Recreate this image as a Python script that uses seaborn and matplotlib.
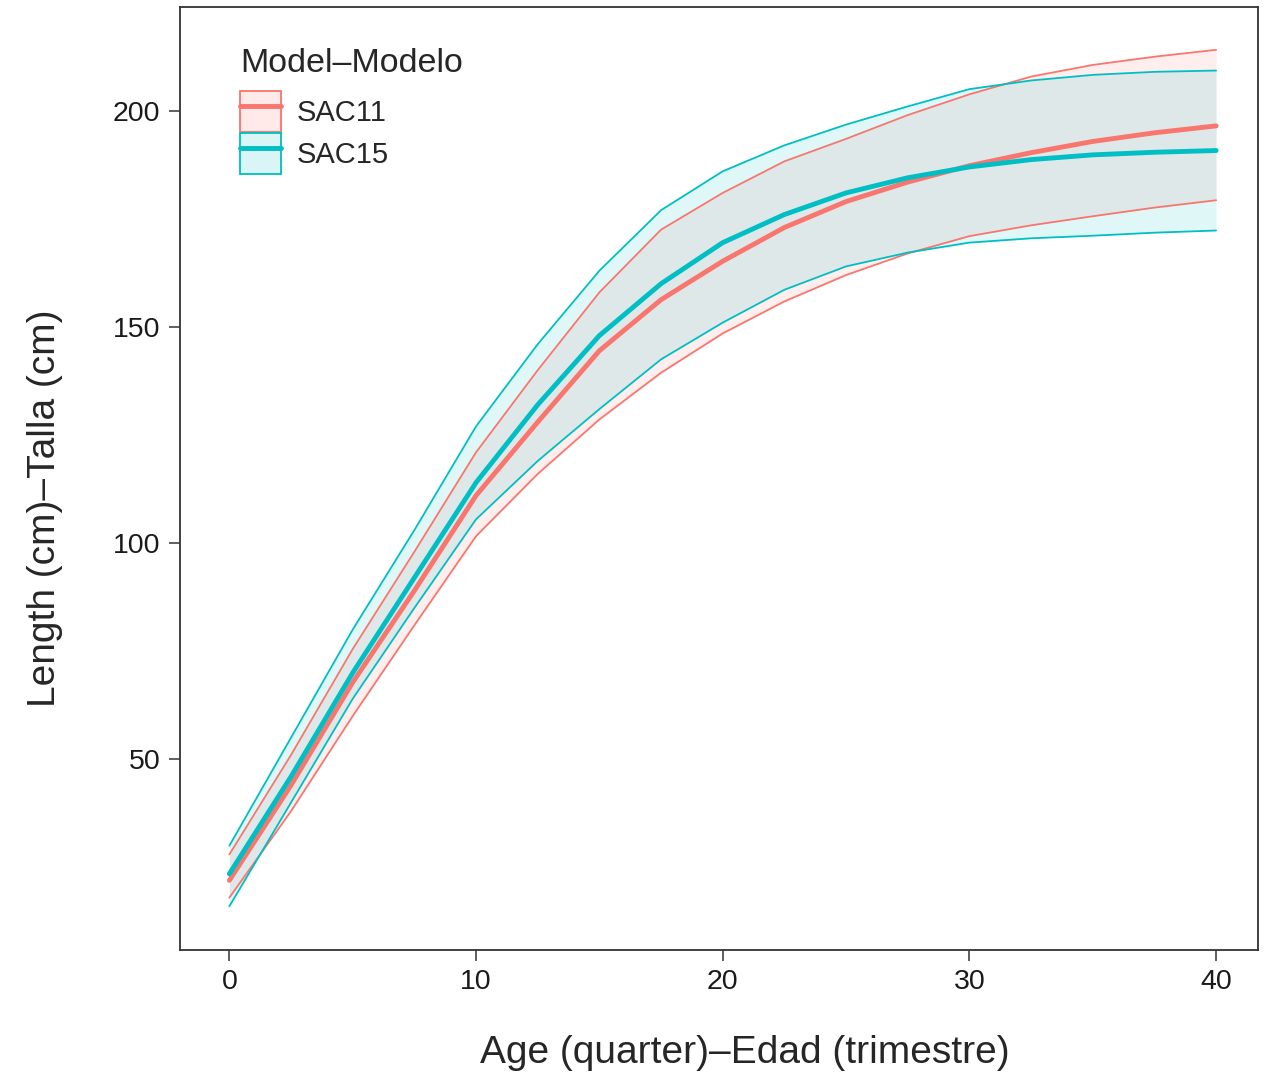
"""
Growth curves SAC11 vs SAC15 with confidence bands
"""

import pandas as pd
import matplotlib
matplotlib.use("Agg")
import matplotlib.pyplot as plt
from matplotlib.patches import Patch
from matplotlib.lines import Line2D
import seaborn as sns

# values
age = [0, 2.5, 5, 7.5, 10, 12.5, 15, 17.5, 20, 22.5, 25, 27.5, 30, 32.5, 35, 37.5, 40]

sac11_mean = [22, 44, 67.8, 89, 111, 128, 144.5, 156.3, 165.2, 173, 179, 183.5, 187.3, 190.3, 192.9, 194.9, 196.5]
sac11_lo = [18, 38, 60, 81, 101.6, 116, 128.6, 139.4, 148.5, 155.9, 162, 167, 171, 173.5, 175.6, 177.6, 179.3]
sac11_hi = [28, 51, 75.5, 98, 121, 140, 158, 172.5, 181, 188.3, 193.5, 199, 203.8, 207.9, 210.6, 212.5, 214.1]

sac15_mean = [23.5, 46, 70, 92, 114, 132, 148, 160, 169.5, 176, 181, 184.5, 187, 188.7, 189.8, 190.4, 190.8]
sac15_lo = [16, 40, 64, 85, 105.5, 119, 131, 142.5, 151, 158.6, 164, 167.2, 169.5, 170.5, 171.1, 171.8, 172.3]
sac15_hi = [30, 55, 80, 103, 127, 146, 163, 177, 186, 192, 196.8, 201, 205, 207, 208.3, 209, 209.3]

models = ["SAC11", "SAC15"]
palette = {"SAC11": "#F8766D", "SAC15": "#00BFC4"}

frames = []
for name, m, lo, hi in [("SAC11", sac11_mean, sac11_lo, sac11_hi),
                        ("SAC15", sac15_mean, sac15_lo, sac15_hi)]:
    frames.append(pd.DataFrame({"age": age, "mean": m, "lo": lo, "hi": hi, "model": name}))
df = pd.concat(frames, ignore_index=True)

sns.set_theme(style="white")
plt.rcParams["font.family"] = ["Liberation Sans", "DejaVu Sans"]

fig = plt.figure(figsize=(12.65, 10.75), dpi=100)
ax = fig.add_axes([0.1423, 0.1163, 0.8522, 0.8772])

# ribbons
for name in models:
    sub = df[df["model"] == name]
    ax.fill_between(sub["age"], sub["lo"], sub["hi"], color=palette[name], alpha=0.12, lw=0)

# band edges
sns.lineplot(data=df, x="age", y="lo", hue="model", palette=palette, lw=1.3, legend=False, ax=ax)
sns.lineplot(data=df, x="age", y="hi", hue="model", palette=palette, lw=1.3, legend=False, ax=ax)
# means
sns.lineplot(data=df, x="age", y="mean", hue="model", palette=palette, lw=3.5, legend=False, ax=ax)

ax.set_xlim(-2, 41.7)
ax.set_ylim(5.9, 224)
ax.set_xticks([0, 10, 20, 30, 40])
ax.set_yticks([50, 100, 150, 200])

for s in ax.spines.values():
    s.set_color("#333333")
    s.set_linewidth(1.3)

ax.tick_params(axis="both", which="major", length=8, width=1.1, color="#333333",
               labelsize=20.5, labelcolor="#1a1a1a", bottom=True, left=True, direction="out", pad=6)

ax.set_xlabel("Age (quarter)\u2013Edad (trimestre)", fontsize=28)
ax.set_ylabel("Length (cm)\u2013Talla (cm)", fontsize=28)
ax.xaxis.set_label_coords(0.524, -0.09)
ax.yaxis.set_label_coords(-0.109, 0.468)

handles = []
for name in models:
    patch = Patch(facecolor=palette[name], alpha=0.15, edgecolor=palette[name], lw=1.3)
    edge = Patch(facecolor="none", edgecolor=palette[name], lw=1.3)
    line = Line2D([], [], color=palette[name], lw=3.5)
    handles.append((patch, edge, line))

leg = ax.legend(handles, models, title="Model\u2013Modelo", loc="upper left",
                bbox_to_anchor=(0.042, 0.972), frameon=False, fontsize=21,
                title_fontsize=24.5, handlelength=1.4, handleheight=1.75,
                labelspacing=0.05, handletextpad=0.55, borderpad=0)
leg._legend_box.align = "left"
leg._legend_box.sep = 9

plt.savefig("out.png", dpi=100)
plt.close()
